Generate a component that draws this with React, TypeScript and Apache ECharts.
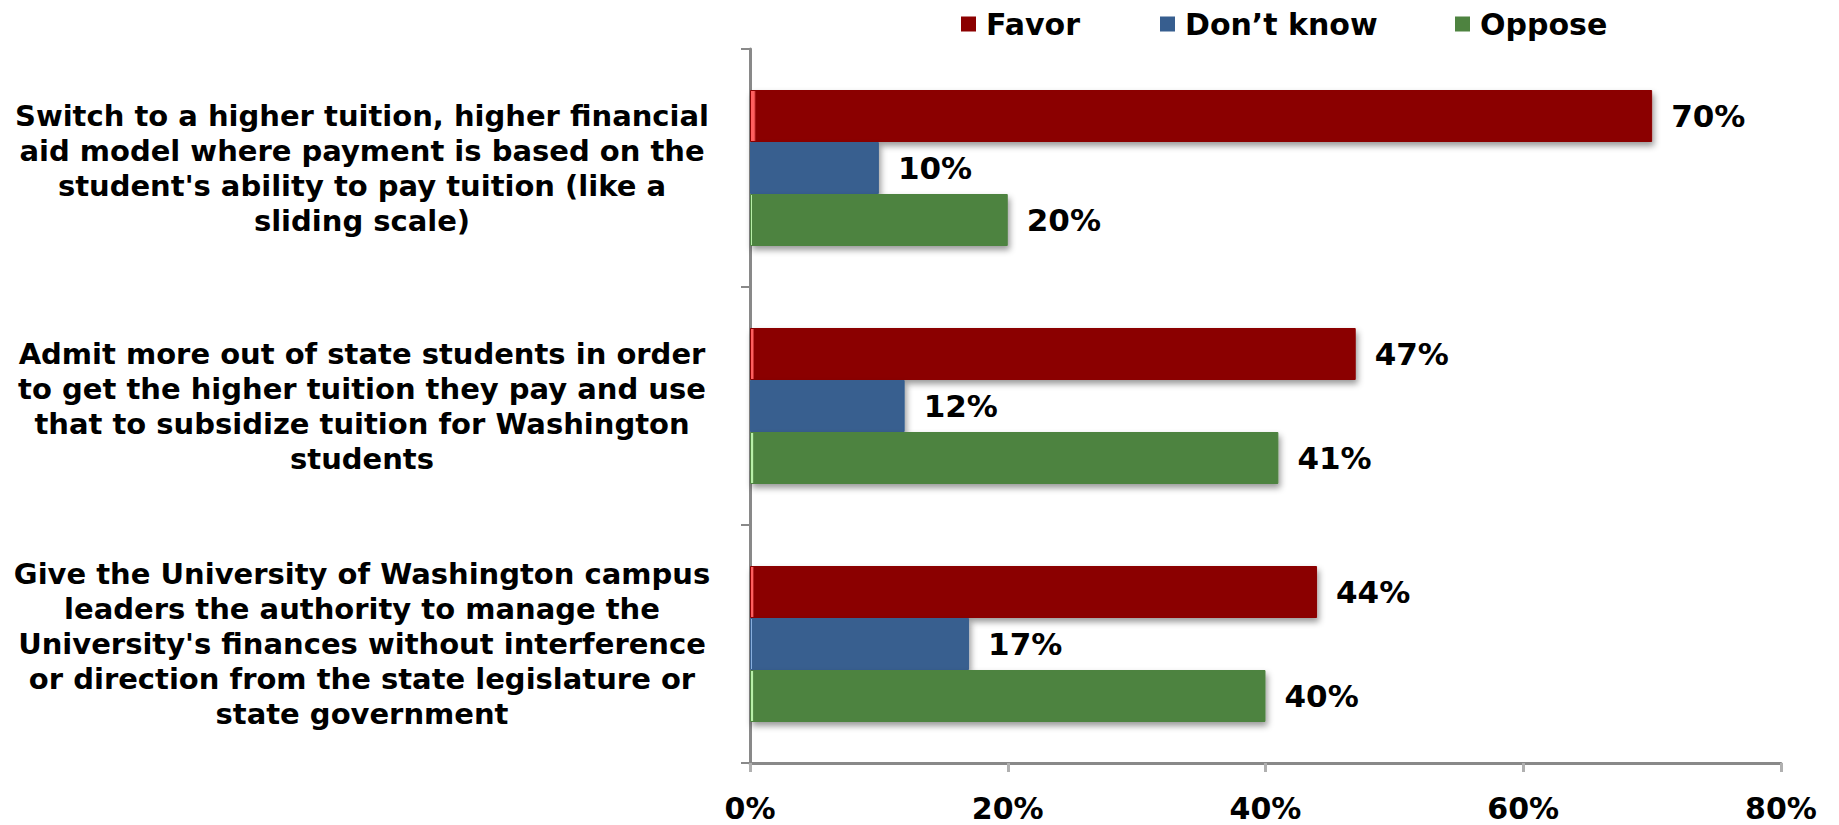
import React, { useEffect, useRef } from "react";
import * as echarts from "echarts";

const categories: string[] = [
  "Switch to a higher tuition, higher financial\naid model where payment is based on the\nstudent's ability to pay tuition (like a\nsliding scale)",
  "Admit more out of state students in order\nto get the higher tuition they pay and use\nthat to subsidize tuition for Washington\nstudents",
  "Give the University of Washington campus\nleaders the authority to manage the\nUniversity's finances without interference\nor direction from the state legislature or\nstate government",
];
const seriesNames: string[] = ["Favor", "Don\u2019t know", "Oppose"];
const favor: number[] = [70, 47, 44];
const dontKnow: number[] = [10, 12, 17];
const oppose: number[] = [20, 41, 40];
const colors: string[] = ["#8B0000", "#375E8F", "#4E8340"];
const edgeColors: string[] = ["#ff6060", "#a8d0ff", "#b8f0a8"];
const legendLeft: number[] = [956, 1155, 1450];

const FONT = "DejaVu Sans";

export default function App() {
  const ref = useRef<HTMLDivElement>(null);
  useEffect(() => {
    if (!ref.current) return;
    const chart = echarts.init(ref.current, undefined, { renderer: "svg" });
    const values = [favor, dontKnow, oppose];
    const mkGrad = (i: number) =>
      new echarts.graphic.LinearGradient(0, 0, 1, 0, [
        { offset: 0, color: edgeColors[i] },
        { offset: 0.004, color: edgeColors[i] },
        { offset: 0.006, color: colors[i] },
        { offset: 1, color: colors[i] },
      ]);
    chart.setOption({
      animation: false,
      backgroundColor: "#ffffff",
      legend: seriesNames.map((n, i) => ({
        data: [n],
        left: legendLeft[i],
        top: 4,
        itemWidth: 13,
        itemHeight: 13,
        icon: "rect",
        textStyle: {
          fontFamily: FONT,
          fontWeight: "bold",
          fontSize: 30,
          color: "#000",
          padding: [0, 0, 0, 6],
        },
      })),
      grid: { left: 750, right: 58, top: 49, bottom: 62, containLabel: false },
      xAxis: {
        type: "value",
        min: 0,
        max: 80,
        interval: 20,
        axisLine: { show: true, lineStyle: { color: "#898989", width: 3 } },
        axisTick: { show: true, length: 9, lineStyle: { color: "#b0b0b0", width: 3 } },
        splitLine: { show: false },
        axisLabel: {
          formatter: "{value}%",
          fontFamily: FONT,
          fontWeight: "bold",
          fontSize: 30,
          color: "#000",
          margin: 30,
        },
      },
      yAxis: {
        type: "category",
        data: categories,
        inverse: true,
        axisLine: { show: true, lineStyle: { color: "#898989", width: 3 } },
        axisTick: { show: true, length: 9, lineStyle: { color: "#898989", width: 2 } },
        axisLabel: {
          fontFamily: FONT,
          fontWeight: "bold",
          fontSize: 29,
          lineHeight: 35,
          color: "#000",
          align: "center",
          margin: 388,
        },
      },
      series: seriesNames.map((n, i) => ({
        name: n,
        type: "bar",
        data: values[i],
        barWidth: 52,
        barGap: "0%",
        itemStyle: {
          color: mkGrad(i),
          borderColor: colors[i],
          borderWidth: 1,
          shadowColor: "rgba(0,0,0,0.4)",
          shadowBlur: 6,
          shadowOffsetY: 4,
          shadowOffsetX: 2,
        },
        label: {
          show: true,
          position: "right",
          distance: 19,
          formatter: "{c}%",
          fontFamily: FONT,
          fontWeight: "bold",
          fontSize: 31,
          color: "#000",
        },
      })),
    });
    chart.setOption({
      series: seriesNames.map((n, i) => ({ name: n, color: colors[i] })),
    });
    return () => chart.dispose();
  }, []);
  return (
    <div
      ref={ref}
      style={{ position: "fixed", left: 0, top: 0, width: 1839, height: 825 }}
    />
  );
}
